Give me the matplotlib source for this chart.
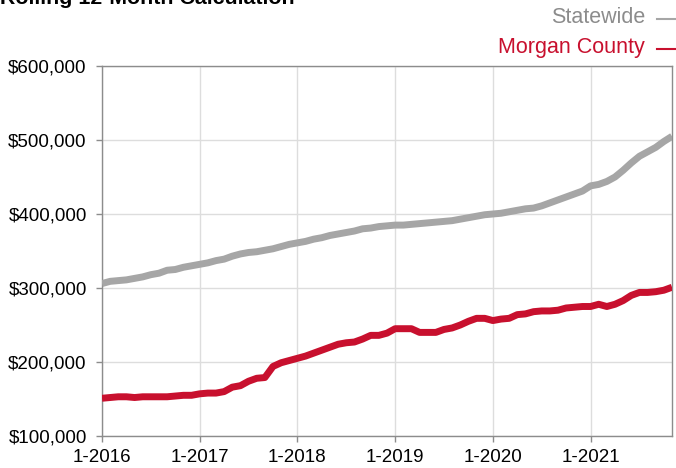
import matplotlib.pyplot as plt
import numpy as np
from matplotlib.lines import Line2D

# Monthly rolling 12-month median sales price, Jan 2016 .. Nov 2021 (in $1000s)
statewide = [
    306, 309, 310, 311, 313, 315, 318, 320, 324, 325, 328, 330,
    332, 334, 337, 339, 343, 346, 348, 349, 351, 353, 356, 359,
    361, 363, 366, 368, 371, 373, 375, 377, 380, 381, 383, 384,
    385, 385, 386, 387, 388, 389, 390, 391, 393, 395, 397, 399,
    400, 401, 403, 405, 407, 408, 411, 415, 419, 423, 427, 431,
    438, 440, 444, 450, 459, 469, 478, 484, 490, 498, 505,
]
morgan = [
    151, 152, 153, 153, 152, 153, 153, 153, 153, 154, 155, 155,
    157, 158, 158, 160, 166, 168, 174, 178, 179, 194, 199, 202,
    205, 208, 212, 216, 220, 224, 226, 227, 231, 236, 236, 239,
    245, 245, 245, 240, 240, 240, 244, 246, 250, 255, 259, 259,
    256, 258, 259, 264, 265, 268, 269, 269, 270, 273, 274, 275,
    275, 278, 275, 278, 283, 290, 294, 294, 295, 297, 301,
]
tick_labels = ["1-2016", "1-2017", "1-2018", "1-2019", "1-2020", "1-2021"]
y_ticks = [100000, 200000, 300000, 400000, 500000, 600000]

gray = "#a6a6a6"
red = "#c8102e"
font = ["Liberation Sans", "DejaVu Sans"]
plt.rcParams["font.family"] = font

months = np.arange(len(statewide))

fig = plt.figure(figsize=(6.76, 4.68), dpi=100)
ax = fig.add_axes([102 / 676, 1 - 436 / 468, 570 / 676, 370 / 468])

ax.plot(months, np.array(statewide) * 1000, color=gray, lw=5, solid_capstyle="butt", zorder=3)
ax.plot(months, np.array(morgan) * 1000, color=red, lw=5, solid_capstyle="butt", zorder=3)

ax.set_xlim(0, len(statewide) - 1)
ax.set_ylim(100000, 600000)
ax.set_xticks(np.arange(len(tick_labels)) * 12)
ax.set_xticklabels(tick_labels)
ax.set_yticks(y_ticks)
ax.set_yticklabels([f"${v:,.0f}" for v in y_ticks])

ax.grid(True, color="#dddddd", lw=1, zorder=0)
for s in ax.spines.values():
    s.set_color("#8c8c8c")
    s.set_linewidth(1)
ax.tick_params(axis="both", labelsize=13.5, color="#8c8c8c", length=4, width=1)
ax.tick_params(axis="y", pad=7)
ax.tick_params(axis="x", pad=5)

# title is clipped at the top of the image
fig.text(0.0, 1 - 4 / 468, "Rolling 12-Month Calculation", fontsize=15.4,
         fontweight="bold", ha="left", va="baseline")

# legend: label text plus a short dash running to the right edge
legend = [("Statewide", "#8c8c8c", gray, 17.5), ("Morgan County", red, red, 48)]
for name, tcol, dcol, ypix in legend:
    fig.text(645 / 676, 1 - ypix / 468, name, color=tcol, fontsize=15.5,
             ha="right", va="center")
    yd = 1 - (ypix + 1) / 468
    fig.add_artist(Line2D([657 / 676, 1.0], [yd, yd], color=dcol, lw=1.5,
                          transform=fig.transFigure))

fig.savefig("out.png", dpi=100)
